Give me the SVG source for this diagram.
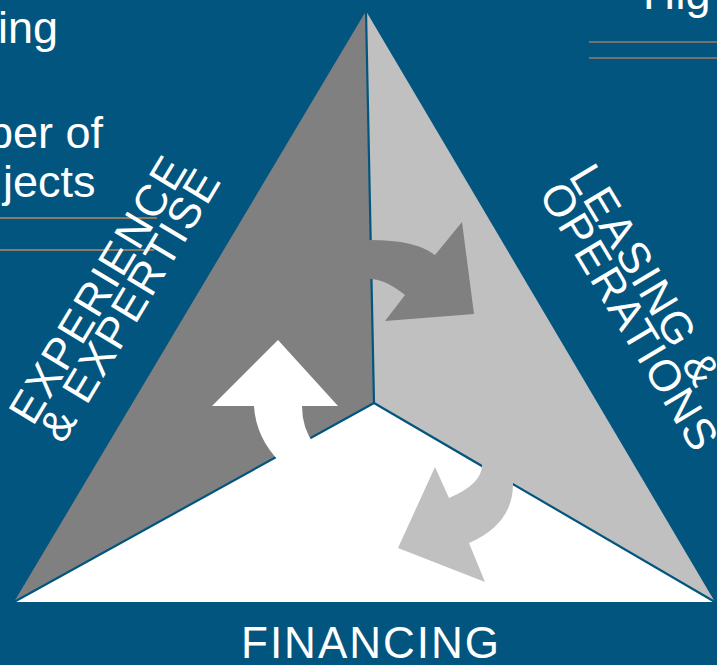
<svg xmlns="http://www.w3.org/2000/svg" width="717" height="665" viewBox="0 0 717 665">
  <style>
    .txt { font-family: "Liberation Sans", Arial, sans-serif; fill: #ffffff; }
    .side { font-size: 44px; letter-spacing: 2px; }
    .body { font-size: 45px; }
    .divider { stroke: #02557E; stroke-width: 2.2; fill: none; }
  </style>

  <!-- background -->
  <rect x="0" y="0" width="717" height="665" fill="#02557E"/>

  <!-- clipped body text and rules at the edges -->
  <g id="side-notes">
    <text class="txt body" x="-2" y="43">ing</text>
    <text class="txt body" x="-12" y="148">ber of</text>
    <text class="txt body" x="3" y="197">jects</text>
    <text class="txt body" x="643" y="9">Hig</text>
    <line x1="0" y1="218" x2="157" y2="218" stroke="#8C7B62" stroke-width="2"/>
    <line x1="0" y1="250" x2="154" y2="250" stroke="#8C7B62" stroke-width="2"/>
    <line x1="589" y1="42" x2="717" y2="42" stroke="#76706A" stroke-width="2"/>
    <line x1="589" y1="58" x2="717" y2="58" stroke="#76706A" stroke-width="2"/>
  </g>

  <!-- three sectors of the triangle -->
  <g id="sector-experience">
    <polygon points="366,11 374,403 14,602" fill="#808080"/>
  </g>
  <g id="sector-leasing">
    <polygon points="366,11 715,602 374,403" fill="#C0C0C0"/>
  </g>
  <g id="sector-financing">
    <polygon points="14,602 374,403 715,602" fill="#FFFFFF"/>
  </g>

  <!-- connectors: dividers and cycle arrows -->
  <g id="connectors">
    <line class="divider" x1="366" y1="11" x2="374" y2="403"/>
    <line class="divider" x1="14" y1="602" x2="374" y2="403"/>
    <line class="divider" x1="715" y1="602" x2="374" y2="403"/>

    <!-- experience to leasing -->
    <path d="M360 240 L370 240 Q416 240 435 255 L462 222 L474 314 L385 321 L405 295 Q385 279 370 279 L360 279 Z" fill="#808080"/>
    <!-- leasing to financing -->
    <path d="M482 450 L482 465 Q482 484 449 498 L435 467 L398 548 L485 582 L469 543 Q513 524 513 484 L513 460 Z" fill="#C0C0C0"/>
    <!-- financing to experience -->
    <path d="M212 406 L278 340 L338 406 L302 406 Q302 428 314 444 L340 470 L300 490 L280 462 Q256 438 254 406 Z" fill="#FFFFFF"/>
  </g>

  <!-- sector labels -->
  <g id="label-experience">
    <text class="txt side" transform="translate(33,427) rotate(-59)">
      <tspan x="0" y="0">EXPERIENCE</tspan>
      <tspan x="0" y="35">&amp; EXPERTISE</tspan>
    </text>
  </g>
  <g id="label-leasing">
    <text class="txt side" transform="translate(568,176) rotate(59)">
      <tspan x="0" y="0">LEASING &amp;</tspan>
      <tspan x="0" y="35">OPERATIONS</tspan>
    </text>
  </g>
  <g id="label-financing">
    <text class="txt side" x="371" y="658" text-anchor="middle">FINANCING</text>
  </g>
</svg>
